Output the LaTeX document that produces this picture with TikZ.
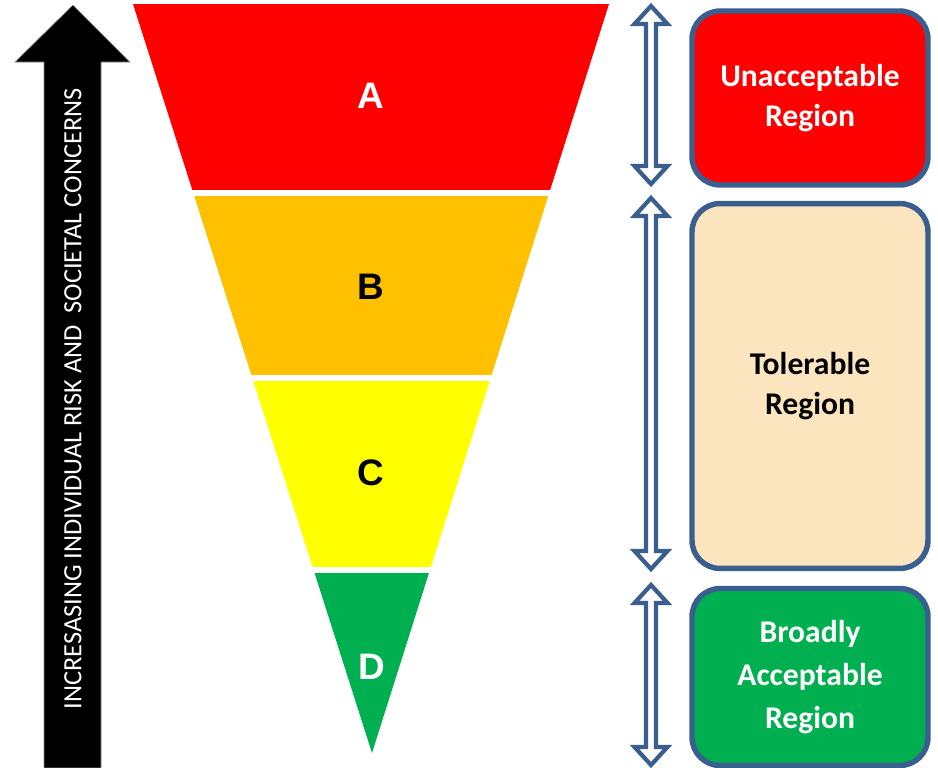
\documentclass[tikz,border=0pt]{standalone}
\usepackage{fontspec}
\setmainfont{Carlito}
\newfontfamily\letterfont{Liberation Sans}
\definecolor{frame}{HTML}{3A5F8E}
\definecolor{riskred}{HTML}{FF0000}
\definecolor{riskamber}{HTML}{FFC000}
\definecolor{riskyellow}{HTML}{FFFF00}
\definecolor{riskgreen}{HTML}{00B050}
\definecolor{peach}{HTML}{FBE5BF}
\tikzset{
  band label/.style={font=\letterfont\bfseries\fontsize{21}{25}\selectfont},
  region/.style={draw=frame,line width=3.1pt,rounded corners=16pt,minimum width=4.72cm,align=center,font=\bfseries\fontsize{18}{23}\selectfont},
  span/.style={draw=frame,fill=white,line width=2.4pt,line join=miter},
  trend/.style={fill=black,draw=black!45,line width=0.4pt}
}
% hollow two-headed arrow between two heights (pixel units)
\newcommand\spanarrow[2]{%
  \draw[span] (651,#1) -- ++(16.5,18) -- ++(-11.5,0) -- (656,{#2-18}) -- ++(11.5,0)
    -- (651,#2) -- ++(-16.5,-18) -- ++(11.5,0) -- (646,{#1+18}) -- ++(-11.5,0) -- cycle;}

\begin{document}
\begin{tikzpicture}[x=0.02cm,y=-0.02cm]
  \useasboundingbox (0,0) rectangle (938,768);

  % rising arrow with its caption
  \draw[trend] (73,5) -- (130,62) -- (101,62) -- (101,768) -- (44,768) -- (44,62) -- (15,62) -- cycle;
  \node[rotate=90,text=white,font=\fontsize{15}{18}\selectfont] (trendtext) at (73,399)
    {INCRESASING INDIVIDUAL RISK AND \ SOCIETAL CONCERNS};

  % the funnel, cut into four bands
  \begin{scope}
    \clip (133,4) -- (609,4) -- (372,753) -- cycle;
    \fill[riskred] (100,0) rectangle (640,190);
    \fill[riskamber] (100,196) rectangle (640,375);
    \fill[riskyellow] (100,381) rectangle (640,567);
    \fill[riskgreen] (100,573) rectangle (640,760);
  \end{scope}
  \node[band label,text=white] (bandA) at (371,96) {A};
  \node[band label] (bandB) at (371,287) {B};
  \node[band label] (bandC) at (371,473) {C};
  \node[band label,text=white] (bandD) at (372,667) {D};

  % extent of each region
  \spanarrow{6}{184}
  \spanarrow{198}{569}
  \spanarrow{585}{765}

  \node[region,fill=riskred,text=white,minimum height=3.48cm] (unacceptable) at (810,98)
    {Unacceptable\\Region};
  \node[region,fill=peach,minimum height=7.3cm] (tolerable) at (810,386)
    {Tolerable\\Region};
  \node[region,fill=riskgreen,text=white,minimum height=3.54cm,
        font=\bfseries\fontsize{18}{24.5}\selectfont] (acceptable) at (810,677)
    {Broadly\\Acceptable\\Region};
\end{tikzpicture}
\end{document}
